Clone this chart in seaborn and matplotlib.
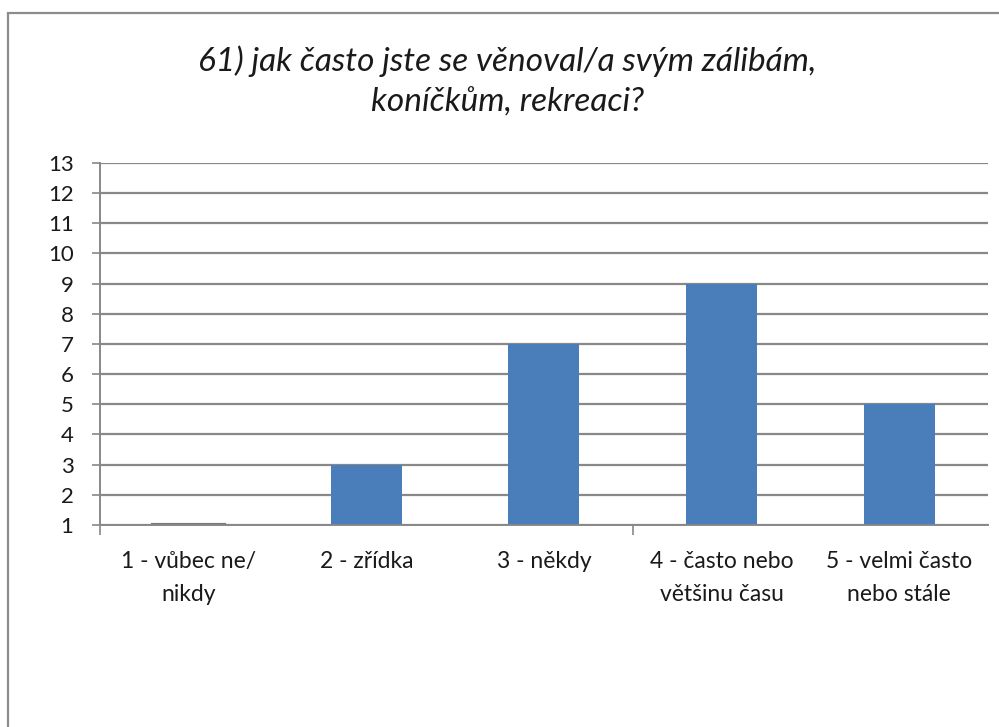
import matplotlib
matplotlib.use("Agg")
import matplotlib.pyplot as plt
from matplotlib.patches import Rectangle
import seaborn as sns
import pandas as pd

categories = ["1 - vůbec ne/\nnikdy", "2 - zřídka", "3 - někdy",
              "4 - často nebo\nvětšinu času", "5 - velmi často\nnebo stále"]
values = [1, 3, 7, 9, 5]
y_ticks = list(range(1, 14))
title = "61) jak často jste se věnoval/a svým zálibám,\nkoníčkům, rekreaci?"

sns.set_style("white")
plt.rcParams["font.family"] = ["Lato", "DejaVu Sans"]

df = pd.DataFrame({"cat": categories, "val": values})

fig = plt.figure(figsize=(9.99, 7.27), dpi=100)
ax = fig.add_axes([0.100, 0.2779, 0.889, 0.4979])

sns.barplot(data=df, x="cat", y="val", color="#4A7EBB", saturation=1,
            width=0.4, ax=ax, linewidth=0)
# thin outline for the bottom-value bar
for p, v in zip(ax.patches, values):
    if v <= y_ticks[0]:
        p.set_edgecolor("#7a7a7a")
        p.set_linewidth(3)

ax.set_ylim(y_ticks[0], y_ticks[-1])
ax.set_xlim(-0.5, len(categories) - 0.5)
ax.set_yticks(y_ticks)
ax.yaxis.grid(True, color="#888888", linewidth=1.6)
ax.set_axisbelow(True)

for s in ["top", "right"]:
    ax.spines[s].set_visible(False)
for s in ["left", "bottom"]:
    ax.spines[s].set_color("#888888")
    ax.spines[s].set_linewidth(1.4)

ax.tick_params(axis="y", length=6, width=1.2, color="#888888", direction="out",
               labelsize=16, pad=13, left=True, labelcolor="#1a1a1a")
ax.tick_params(axis="x", length=0, labelsize=16.5, pad=19, labelcolor="#1a1a1a")
ax.set_xticks(range(len(categories)))
ax.set_xticklabels(categories, linespacing=1.7)
ax.set_xticks([-0.5, 2.5], minor=True)
ax.tick_params(axis="x", which="minor", length=7, width=1.2, color="#888888",
               direction="out", bottom=True)
ax.set_xlabel("")
ax.set_ylabel("")

fig.text(0.508, 0.888, title, ha="center", va="center", fontsize=24,
         style="italic", linespacing=1.43, color="#1a1a1a")

fig.patches.append(Rectangle((8 / 999, -0.05), 1.0, 1 - 13 / 727 + 0.05,
                             transform=fig.transFigure, fill=False,
                             edgecolor="#8c8c8c", linewidth=1.6))

fig.savefig("out.png", dpi=100, facecolor="white")
